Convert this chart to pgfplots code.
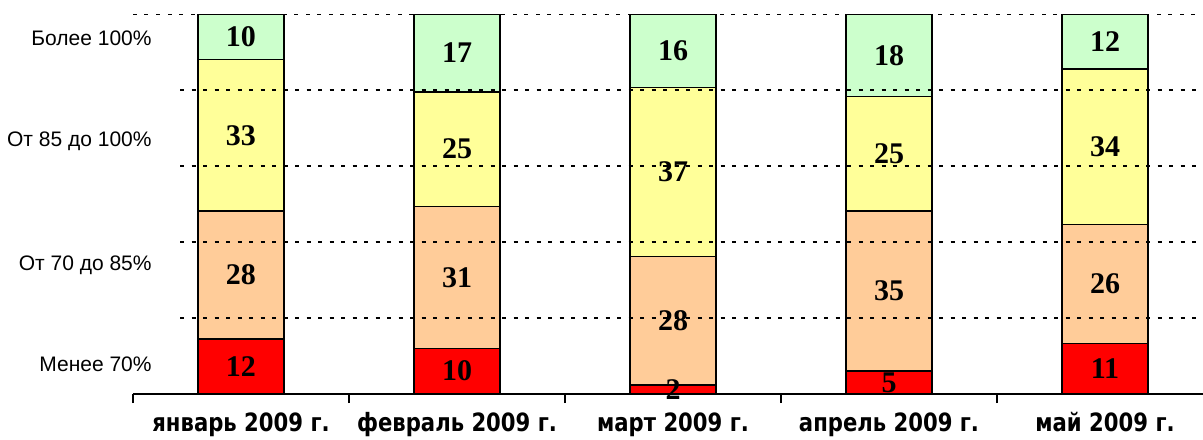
\documentclass[border=0pt]{standalone}
\usepackage{fontspec}
\setmainfont{Liberation Sans}
\newfontfamily\numfont{Liberation Serif}
\newfontfamily\catfont[FakeStretch=0.84]{DejaVu Sans}
\usepackage{pgfplots}
\pgfplotsset{compat=1.18}
\definecolor{cred}{HTML}{FF0000}
\definecolor{cpeach}{HTML}{FFCC99}
\definecolor{cyellow}{HTML}{FFFF99}
\definecolor{cgreen}{HTML}{CCFFCC}
\pgfplotsset{seg/.style={fill=#1,draw=black,line width=0.7pt}}
\tikzset{dgrid/.style={draw=black,line width=0.9pt,dash pattern=on 2pt off 3.75pt}}
\begin{document}
\begin{tikzpicture}
\path[use as bounding box] (0,0) rectangle (601.5pt,219.5pt);
\clip (0,0) rectangle (601.5pt,219.5pt);
\begin{axis}[
  at={(66.5pt,22.5pt)}, anchor=south west,
  scale only axis, width=540pt, height=190pt,
  ybar stacked, bar width=43pt,
  xmin=-0.5, xmax=4.5, ymin=0, ymax=83,
  axis lines*=left,
  x axis line style={line width=0.75pt,black},
  y axis line style={draw=none},
  xtick={0,1,2,3,4},
  xticklabels={январь 2009 г., февраль 2009 г., март 2009 г., апрель 2009 г., май 2009 г.},
  minor xtick={-0.5,0.5,1.5,2.5,3.5,4.5},
  xtick align=outside,
  major tick length=0pt, minor tick length=4.5pt,
  minor x tick style={line width=0.75pt,black},
  xticklabel style={font=\catfont\bfseries\fontsize{12.6}{14}\selectfont,anchor=base,inner sep=0pt,yshift=-18.8pt},
  ytick={4.9,26.9,54.0,76.2},
  yticklabels={Менее 70\%, От 70 до 85\%, От 85 до 100\%, Более 100\%},
  ytick style={draw=none},
  yticklabel style={font=\fontsize{10.5}{12}\selectfont,anchor=base east,inner sep=0pt,xshift=9.5pt},
  point meta=explicit,
  nodes near coords={\pgfmathprintnumber[assume math mode=true]{\pgfplotspointmeta}},
  every node near coord/.append style={font=\numfont\bfseries\fontsize{15}{15}\selectfont,anchor=center},
]
\draw[dgrid] (axis cs:-0.5,83) -- (axis cs:4.5,83);
\draw[dgrid] (axis cs:-0.2824,66.4) -- (axis cs:4.5,66.4);
\draw[dgrid] (axis cs:-0.2824,49.8) -- (axis cs:4.5,49.8);
\draw[dgrid] (axis cs:-0.2824,33.2) -- (axis cs:4.5,33.2);
\draw[dgrid] (axis cs:-0.2824,16.6) -- (axis cs:4.5,16.6);
\addplot[seg=cred] coordinates {(0,12)[12] (1,10)[10] (2,2)[2] (3,5)[5] (4,11)[11]};
\addplot[seg=cpeach] coordinates {(0,28)[28] (1,31)[31] (2,28)[28] (3,35)[35] (4,26)[26]};
\addplot[seg=cyellow] coordinates {(0,33)[33] (1,25)[25] (2,37)[37] (3,25)[25] (4,34)[34]};
\addplot[seg=cgreen] coordinates {(0,10)[10] (1,17)[17] (2,16)[16] (3,18)[18] (4,12)[12]};
\end{axis}
\end{tikzpicture}
\end{document}
